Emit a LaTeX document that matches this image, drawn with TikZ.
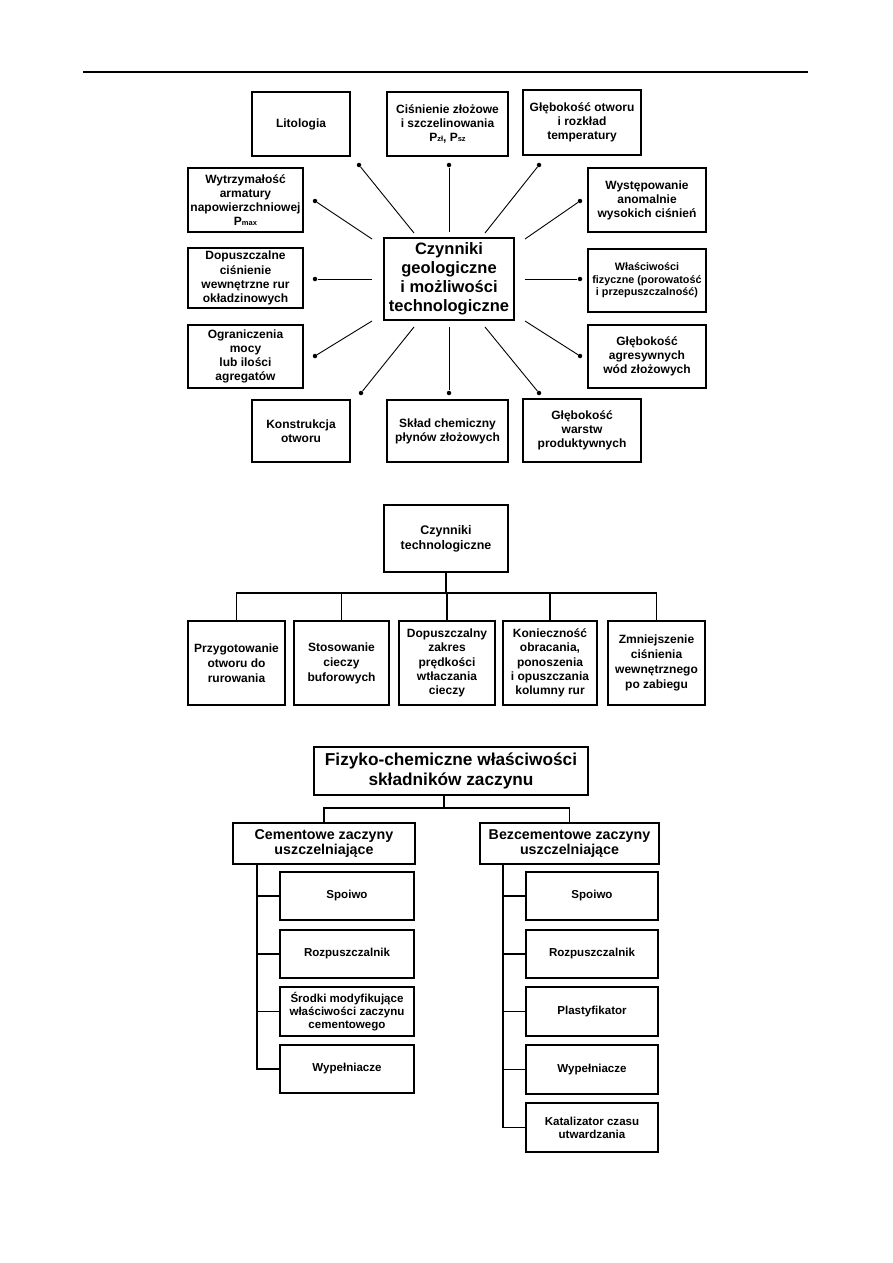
\documentclass[tikz,border=0pt]{standalone}
\usepackage{fontspec}
\setmainfont{Liberation Sans}
\newcommand\bx[7]{\node[#6, minimum width={(#4-#2)*0.66667pt}, minimum height={(#5-#3)*0.66667pt}] (#1) at ({(#2+#4)/2},{(#3+#5)/2}) {#7};}
\newcommand\sbs[1]{{\fontsize{5}{5}\selectfont #1}}
\tikzset{
  box/.style={draw, line width=0.9pt, inner sep=0pt, align=center, font=\bfseries\fontsize{8}{9.4}\selectfont},
  bigbox/.style={box, line width=1.4pt, font=\bfseries\fontsize{11}{12.7}\selectfont},
  smallbox/.style={box, font=\bfseries\fontsize{7.2}{8.3}\selectfont},
  midbox/.style={box, font=\bfseries\fontsize{8}{10}\selectfont},
  midtight/.style={box, font=\bfseries\fontsize{8}{9.5}\selectfont},
  fzbox/.style={box, line width=1.3pt, font=\bfseries\fontsize{11.5}{13.3}\selectfont},
  catbox/.style={box, font=\bfseries\fontsize{9.5}{10}\selectfont},
  inbox/.style={box, font=\bfseries\fontsize{7.7}{8.8}\selectfont},
  dot/.style={circle, fill, inner sep=0pt, minimum size=3pt},
  con/.style={line width=0.6pt},
  tree/.style={line width=0.8pt}
}
\begin{document}
\begin{tikzpicture}[x=0.66667pt, y=-0.66667pt]
\fill[white] (0,0) rectangle (893,1263);
\useasboundingbox (0,0) rectangle (893,1263);
% header rule
\coordinate (hr1) at (83,72);
\coordinate (hr2) at (808,72);
\draw[line width=0.7pt] (hr1) -- (hr2);

% ---------- top diagram ----------
\bx{cen}{384}{238}{514}{320}{bigbox}{Czynniki\\geologiczne\\i możliwości\\technologiczne}
\bx{lit}{252}{92}{350}{156}{box}{Litologia}
\bx{cis}{387}{92}{508}{156}{box}{Ciśnienie złożowe\\i szczelinowania\\P\sbs{zł}, P\sbs{sz}}
\bx{glo}{523}{90}{641}{155}{box}{Głębokość otworu\\i rozkład\\temperatury}
\bx{wyt}{188}{168}{303}{232}{box}{Wytrzymałość\\armatury\\napowierzchniowej\\P\sbs{max}}
\bx{wys}{588}{168}{706}{232}{box}{Występowanie\\anomalnie\\wysokich ciśnień}
\bx{dop}{188}{248}{303}{308}{box}{Dopuszczalne\\ciśnienie\\wewnętrzne rur\\okładzinowych}
\bx{wla}{588}{249}{706}{312}{smallbox}{Właściwości\\fizyczne (porowatość\\i przepuszczalność)}
\bx{ogr}{188}{325}{303}{388}{box}{Ograniczenia\\mocy\\lub ilości\\agregatów}
\bx{gag}{588}{325}{706}{388}{box}{Głębokość\\agresywnych\\wód złożowych}
\bx{kon}{252}{400}{350}{462}{box}{Konstrukcja\\otworu}
\bx{skl}{387}{400}{508}{462}{box}{Skład chemiczny\\płynów złożowych}
\bx{gwp}{523}{399}{641}{462}{box}{Głębokość\\warstw\\produktywnych}

\node[dot] (dlit) at (359,165) {};
\node[dot] (dcis) at (449,165) {};
\node[dot] (dglo) at (539,165) {};
\node[dot] (dwyt) at (315,201) {};
\node[dot] (dwys) at (580,201) {};
\node[dot] (ddop) at (315,279) {};
\node[dot] (dwla) at (580,279) {};
\node[dot] (dogr) at (315,356) {};
\node[dot] (dgag) at (580,356) {};
\node[dot] (dkon) at (361,393) {};
\node[dot] (dskl) at (449,393) {};
\node[dot] (dgwp) at (539,393) {};

\coordinate (elit) at (414,233);
\coordinate (ecis) at (449,232);
\coordinate (eglo) at (485,233);
\coordinate (ewyt) at (372,239);
\coordinate (ewys) at (525,239);
\coordinate (edop) at (372,279);
\coordinate (ewla) at (525,279);
\coordinate (eogr) at (372,321);
\coordinate (egag) at (525,321);
\coordinate (ekon) at (414,327);
\coordinate (eskl) at (449,327);
\coordinate (egwp) at (485,327);

\foreach \n in {lit,cis,glo,wyt,wys,dop,wla,ogr,gag,kon,skl,gwp}
  \draw[con] (d\n) -- (e\n);

% ---------- middle diagram ----------
\bx{ct}{384}{505}{508}{572}{box, font=\bfseries\fontsize{8.3}{10}\selectfont}{Czynniki\\technologiczne}
\bx{m1}{188}{621}{285}{705}{midbox}{Przygotowanie\\otworu do\\rurowania}
\bx{m2}{294}{621}{389}{705}{midbox}{Stosowanie\\cieczy\\buforowych}
\bx{m3}{399}{621}{495}{705}{midtight}{Dopuszczalny\\zakres\\prędkości\\wtłaczania\\cieczy}
\bx{m4}{503}{621}{597}{705}{midtight}{Konieczność\\obracania,\\ponoszenia\\i opuszczania\\kolumny rur}
\bx{m5}{608}{621}{705}{705}{midbox}{Zmniejszenie\\ciśnienia\\wewnętrznego\\po zabiegu}
\coordinate (mbus) at (446,593);
\draw[tree] (ct.south) -- (ct.south |- mbus);
\draw[tree] (m1.north) |- (mbus) -| (m5.north);
\draw[tree] (m2.north) -- (m2.north |- mbus);
\draw[tree] (m3.north) -- (m3.north |- mbus);
\draw[tree] (m4.north) -- (m4.north |- mbus);

% ---------- bottom diagram ----------
\bx{fz}{314}{747}{588}{795}{fzbox}{Fizyko-chemiczne właściwości\\składników zaczynu}
\bx{cem}{233}{823}{415}{864}{catbox}{Cementowe zaczyny\\uszczelniające}
\bx{bez}{480}{823}{659}{864}{catbox}{Bezcementowe zaczyny\\uszczelniające}
\coordinate (bbus) at (444,808);
\draw[tree] (fz.south -| bbus) -- (bbus);
\draw[tree] (cem.north) |- (bbus) -| (bez.north);

\bx{l1}{280}{872}{414}{920}{inbox}{Spoiwo}
\bx{l2}{280}{930}{414}{978}{inbox}{Rozpuszczalnik}
\bx{l3}{280}{987}{414}{1036}{inbox}{Środki modyfikujące\\właściwości zaczynu\\cementowego}
\bx{l4}{280}{1045}{414}{1093}{inbox}{Wypełniacze}

\bx{r1}{526}{872}{658}{920}{inbox}{Spoiwo}
\bx{r2}{526}{930}{658}{978}{inbox}{Rozpuszczalnik}
\bx{r3}{526}{987}{658}{1036}{inbox}{Plastyfikator}
\bx{r4}{526}{1045}{658}{1094}{inbox}{Wypełniacze}
\bx{r5}{526}{1103}{658}{1152}{inbox}{Katalizator czasu\\utwardzania}

\coordinate (lsp) at (257,864);
\coordinate (rsp) at (503,864);
\draw[tree] (lsp) |- (l4.west);
\foreach \n in {l1,l2,l3} \draw[tree] (\n.west) -- (\n.west -| lsp);
\draw[tree] (rsp) |- (r5.west);
\foreach \n in {r1,r2,r3,r4} \draw[tree] (\n.west) -- (\n.west -| rsp);
\end{tikzpicture}
\end{document}
